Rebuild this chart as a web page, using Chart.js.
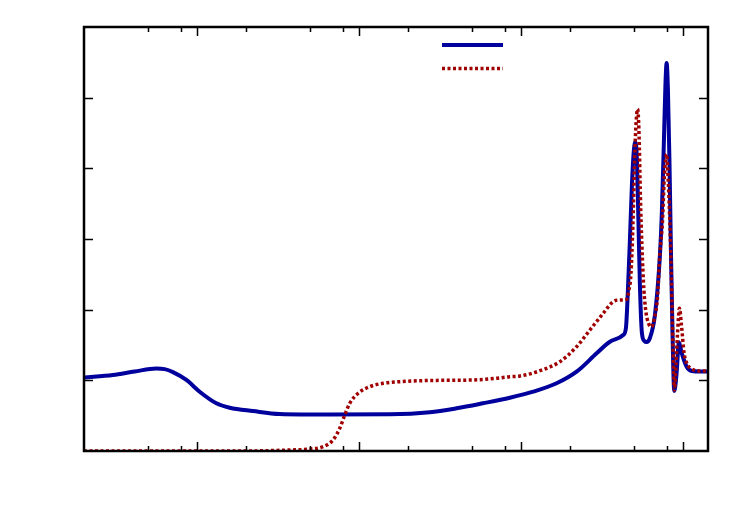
<!DOCTYPE html>
<html>
<head>
<meta charset="utf-8">
<script src="https://cdn.jsdelivr.net/npm/chart.js@4/dist/chart.umd.min.js"></script>
<style>
  html, body { margin: 0; padding: 0; background: #ffffff; }
  #wrap { width: 750px; height: 525px; }
</style>
</head>
<body>
<div id="wrap"><canvas id="c" width="750" height="525"></canvas></div>
<script>
// ---- data ----
const xMin = 2, xMax = 14300;
const yMin = 0, yMax = 6;
const xMajorTicks = [10, 100, 1000, 10000];
const xMinorTicks = [5, 8, 20, 50, 80, 200, 500, 800, 2000, 5000, 8000];
const yTicks = [1, 2, 3, 4, 5];

const blueX = [2, 3.017, 4.110, 5.595, 6.297, 7.087, 8.576, 10.36, 13.14, 15.88, 22.13, 32.36, 65.91, 154.8, 273.5, 399.9, 581.6, 853.9, 1189.6, 1660, 2206, 2933, 3543, 4282, 4450, 4578, 4710, 4846, 4985, 5093, 5203, 5315, 5429, 5586, 5788, 5972, 6259, 6722, 7218, 7426, 7641, 7805, 7940, 8088, 8263, 8441, 8624, 8848, 9129, 9461, 9803, 10556, 11381, 12757, 14295];
const blueY = [1.040, 1.075, 1.125, 1.168, 1.158, 1.116, 1.005, 0.839, 0.675, 0.613, 0.566, 0.524, 0.516, 0.519, 0.548, 0.604, 0.675, 0.754, 0.839, 0.958, 1.122, 1.382, 1.547, 1.641, 1.740, 2.278, 2.986, 3.764, 4.259, 4.372, 4.118, 3.269, 2.350, 1.670, 1.557, 1.542, 1.599, 1.924, 2.773, 3.410, 4.401, 5.179, 5.490, 5.108, 4.118, 2.844, 1.712, 0.849, 1.075, 1.540, 1.400, 1.193, 1.132, 1.125, 1.125];

const redX = [2, 20, 37.29, 49.58, 59.93, 69.08, 75.99, 81.59, 87.61, 98.58, 116.5, 140.7, 196.3, 315.3, 506.6, 706.7, 853.9, 984.7, 1309, 1740, 2206, 2667, 3221, 3714, 4086, 4494, 4644, 4778, 4915, 5057, 5166, 5255, 5353, 5468, 5586, 5747, 5913, 6127, 6394, 6675, 6966, 7218, 7479, 7695, 7940, 8146, 8322, 8501, 8686, 8873, 9065, 9261, 9528, 9803, 10158, 10556, 11381, 12757, 14295];
const redY = [0, 0, 0.014, 0.028, 0.061, 0.156, 0.321, 0.509, 0.675, 0.816, 0.910, 0.958, 0.986, 1.000, 1.005, 1.029, 1.051, 1.061, 1.136, 1.264, 1.476, 1.712, 1.948, 2.113, 2.137, 2.146, 2.278, 2.500, 3.200, 4.259, 4.711, 4.839, 4.542, 3.600, 2.910, 2.280, 1.970, 1.810, 1.755, 1.880, 2.165, 2.800, 3.240, 3.905, 4.200, 3.760, 3.200, 2.420, 1.500, 0.863, 1.217, 1.640, 2.020, 1.780, 1.400, 1.245, 1.160, 1.132, 1.132];

const blueColor = '#00009c';
const redColor = '#a00000';

function toPoints(xs, ys) { return xs.map((x, i) => ({ x: x, y: ys[i] })); }

// frame, inward ticks (gnuplot style) and line-only legend
const framePlugin = {
  id: 'frameTicks',
  afterDraw(chart) {
    const ctx = chart.ctx;
    const a = chart.chartArea;
    const xs = chart.scales.x, ys = chart.scales.y;
    ctx.save();
    ctx.strokeStyle = '#000000';
    ctx.lineWidth = 1.5;
    ctx.beginPath();
    const tick = (vals, len) => {
      vals.forEach(v => {
        const px = Math.round(xs.getPixelForValue(v)) + 0.5;
        ctx.moveTo(px, a.bottom); ctx.lineTo(px, a.bottom - len);
        ctx.moveTo(px, a.top); ctx.lineTo(px, a.top + len);
      });
    };
    tick(xMajorTicks, 9);
    tick(xMinorTicks, 5);
    yTicks.forEach(v => {
      const py = Math.round(ys.getPixelForValue(v)) + 0.5;
      ctx.moveTo(a.left, py); ctx.lineTo(a.left + 9, py);
      ctx.moveTo(a.right, py); ctx.lineTo(a.right - 9, py);
    });
    ctx.stroke();
    ctx.lineWidth = 2.5;
    ctx.strokeRect(a.left, a.top, a.right - a.left, a.bottom - a.top);
    // legend samples (no text in reference)
    ctx.lineWidth = 4;
    ctx.strokeStyle = blueColor;
    ctx.setLineDash([]);
    ctx.beginPath(); ctx.moveTo(442, 45); ctx.lineTo(503, 45); ctx.stroke();
    ctx.lineWidth = 3.5;
    ctx.strokeStyle = redColor;
    ctx.setLineDash([3, 2.5]);
    ctx.beginPath(); ctx.moveTo(442, 68.5); ctx.lineTo(503, 68.5); ctx.stroke();
    ctx.restore();
  }
};

new Chart(document.getElementById('c'), {
  type: 'line',
  data: {
    datasets: [
      {
        label: 'series 1',
        data: toPoints(blueX, blueY),
        borderColor: blueColor,
        borderWidth: 4,
        pointRadius: 0,
        fill: false,
        cubicInterpolationMode: 'monotone',
        order: 1
      },
      {
        label: 'series 2',
        data: toPoints(redX, redY),
        borderColor: redColor,
        borderWidth: 3.5,
        borderDash: [3, 2.5],
        pointRadius: 0,
        fill: false,
        cubicInterpolationMode: 'monotone',
        order: 0
      }
    ]
  },
  options: {
    responsive: false,
    animation: false,
    layout: { padding: { left: 84, right: 42, top: 27, bottom: 74 } },
    scales: {
      x: {
        type: 'logarithmic', min: xMin, max: xMax,
        ticks: { display: false },
        grid: { display: false, drawTicks: false },
        border: { display: false }
      },
      y: {
        type: 'linear', min: yMin, max: yMax,
        ticks: { display: false },
        grid: { display: false, drawTicks: false },
        border: { display: false }
      }
    },
    plugins: { legend: { display: false }, tooltip: { enabled: false } }
  },
  plugins: [framePlugin]
});
</script>
</body>
</html>
